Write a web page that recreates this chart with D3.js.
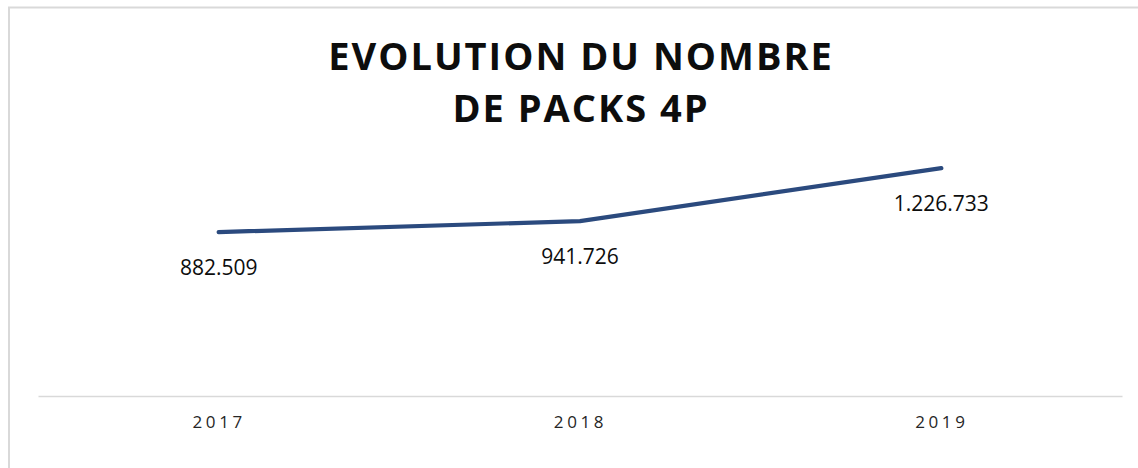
<!DOCTYPE html>
<html>
<head>
<meta charset="utf-8">
<script src="https://cdn.jsdelivr.net/npm/d3@7"></script>
<style>
    body { margin: 0; background: #fff; }
    svg { display: block; }
</style>
</head>
<body>
<div id="chart"></div>
<script>
// Data
const years = ['2017', '2018', '2019'];
const packs = [882509, 941726, 1226733];
const valueLabels = ['882.509', '941.726', '1.226.733'];
const titleLines = ['EVOLUTION DU NOMBRE', 'DE PACKS 4P'];

const width = 1138;
const height = 468;
const margin = {top: 136, bottom: 72, left: 38, right: 16};
const chartWidth = width - margin.left - margin.right;
const chartHeight = height - margin.top - margin.bottom;

const svg = d3.select('#chart')
    .append('svg')
    .attr('width', width)
    .attr('height', height);

// frame of the chart area
svg.append('rect')
    .attr('x', 9)
    .attr('y', 7.5)
    .attr('width', width + 10)
    .attr('height', height + 10)
    .attr('fill', 'none')
    .attr('stroke', '#d9d9d9')
    .attr('stroke-width', 2);

const xScale = d3.scalePoint()
    .domain(years)
    .range([0, chartWidth])
    .padding(0.5);

const yScale = d3.scaleLinear()
    .domain([0, 1400000])
    .range([chartHeight, 0]);

const container = svg.append('g')
    .attr('transform', `translate(${margin.left},${margin.top})`);

// title
svg.append('text')
    .attr('x', margin.left + chartWidth / 2)
    .attr('y', 70)
    .attr('text-anchor', 'middle')
    .style('font-family', '"Open Sans", sans-serif')
    .style('font-weight', 700)
    .style('font-size', '38px')
    .style('letter-spacing', '2px')
    .style('fill', '#0d0d0d')
    .selectAll('tspan')
    .data(titleLines)
    .join('tspan')
      .attr('x', margin.left + chartWidth / 2 + 1)
      .attr('dy', (d, i) => i === 0 ? 0 : 52)
      .text(d => d);

// x axis
const xAxis = d3.axisBottom(xScale).tickSize(0).tickPadding(20);
const axisGroup = container.append('g')
    .attr('transform', `translate(0,${chartHeight})`)
    .call(xAxis);
axisGroup.select('.domain')
    .attr('stroke', '#d9d9d9')
    .attr('stroke-width', 1.5);
axisGroup.selectAll('.tick text')
    .style('font-family', '"Open Sans", sans-serif')
    .style('font-size', '17px')
    .style('letter-spacing', '3.6px')
    .style('fill', '#262626');

// line
const line = d3.line()
    .x((d, i) => xScale(years[i]))
    .y(d => yScale(d));

container.append('path')
    .datum(packs)
    .attr('fill', 'none')
    .attr('stroke', '#2b4a7e')
    .attr('stroke-width', 4.2)
    .attr('stroke-linecap', 'round')
    .attr('stroke-linejoin', 'round')
    .attr('d', line);

// data labels
container.selectAll('.value-label')
    .data(packs)
    .join('text')
      .attr('class', 'value-label')
      .attr('x', (d, i) => xScale(years[i]))
      .attr('y', d => yScale(d) + 43)
      .attr('text-anchor', 'middle')
      .style('font-family', '"Open Sans", sans-serif')
      .style('font-size', '21px')
      .style('fill', '#0d0d0d')
      .text((d, i) => valueLabels[i]);
</script>
</body>
</html>
